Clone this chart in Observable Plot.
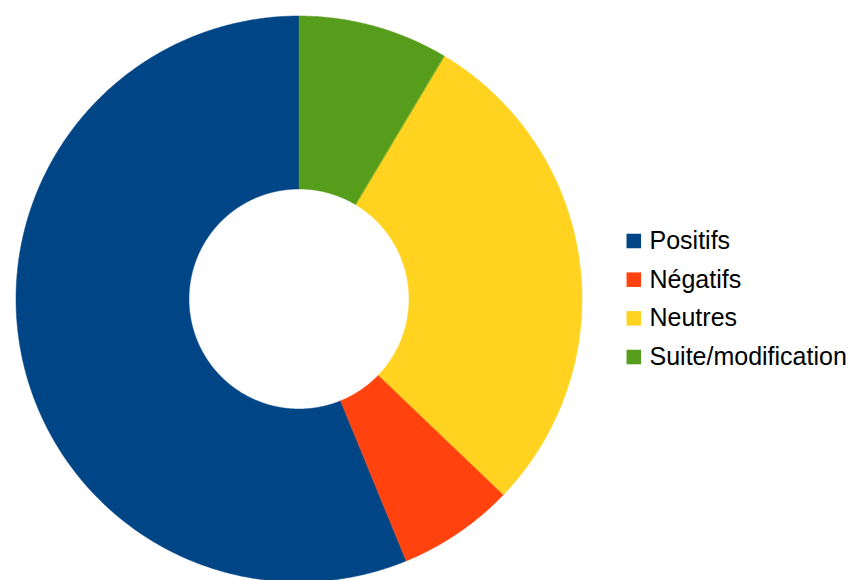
<!DOCTYPE html>
<html>
<head>
<meta charset="utf-8">
<script src="https://cdn.jsdelivr.net/npm/d3@7"></script>
<script src="https://cdn.jsdelivr.net/npm/@observablehq/plot@0.6"></script>
<style>
  html, body { margin: 0; padding: 0; background: #fff; }
  #chart svg { display: block; }
</style>
</head>
<body>
<div id="chart"></div>
<script>
// Data
const categories = ["Positifs", "Négatifs", "Neutres", "Suite/modification"];
const values = [59, 7, 30, 9];
const colors = ["#004586", "#ff420e", "#ffd320", "#579d1c"];

// Layout
const W = 850, H = 580;
const cx = 299, cy = 299, R = 283, r = 110;

// Pie angles: start at 12 o'clock, counter-clockwise
const pie = d3.pie().sort(null).startAngle(0).endAngle(-2 * Math.PI);
const arcs = pie(values);

const rows = [];
arcs.forEach((a, i) => {
  const n = Math.max(2, Math.ceil(Math.abs(a.endAngle - a.startAngle) / (Math.PI / 720)));
  for (let k = 0; k <= n; k++) {
    const t = a.startAngle + (a.endAngle - a.startAngle) * k / n;
    rows.push({
      cat: categories[i],
      x1: cx + R * Math.sin(t), y1: cy - R * Math.cos(t),
      x2: cx + r * Math.sin(t), y2: cy - r * Math.cos(t)
    });
  }
});

const legend = categories.map((c, i) => ({cat: c, i}));
const legX = 633.3, legY0 = 240.5, legDy = 38.67;

const chart = Plot.plot({
  width: W,
  height: H,
  margin: 0,
  x: {type: "linear", domain: [0, W], range: [0, W], axis: null},
  y: {type: "linear", domain: [0, H], range: [0, H], axis: null},
  color: {domain: categories, range: colors},
  marks: [
    Plot.area(rows, {
      x1: "x1", y1: "y1", x2: "x2", y2: "y2",
      z: "cat", fill: "cat", stroke: "cat", strokeWidth: 0.5
    }),
    Plot.dot(legend, {
      x: () => legX,
      y: d => legY0 + d.i * legDy,
      symbol: "square", r: 8.2, fill: "cat", stroke: null
    }),
    Plot.text(legend, {
      x: () => 649,
      y: d => legY0 + d.i * legDy,
      text: "cat", textAnchor: "start",
      fontSize: 25, fill: "#000",
      fontFamily: "'Liberation Sans', Arial, sans-serif"
    })
  ]
});

document.getElementById("chart").appendChild(chart);
</script>
</body>
</html>
